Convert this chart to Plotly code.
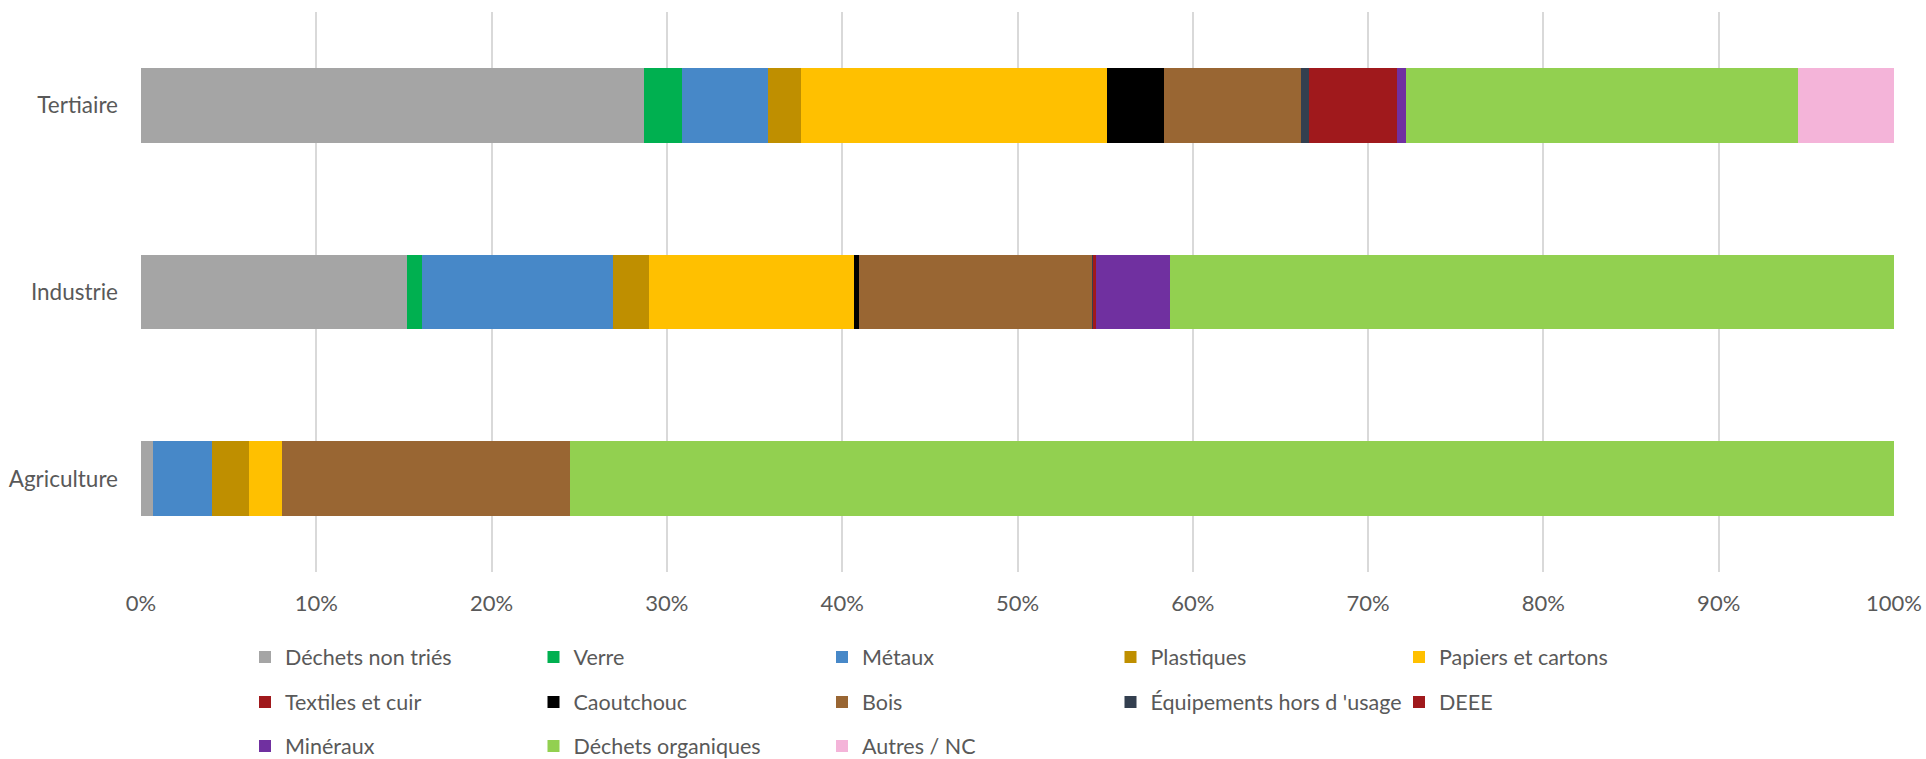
import plotly.graph_objects as go

# ── Data (share of each waste type, %) ─────────────────────────────────────────
SECTEURS = ["Agriculture", "Industrie", "Tertiaire"]

NON_TRIES = [0.67, 15.16, 28.72]
VERRE = [0.0, 0.88, 2.13]
METAUX = [3.39, 10.86, 4.89]
PLASTIQUES = [2.09, 2.06, 1.89]
PAPIERS = [1.89, 11.71, 17.47]
TEXTILES = [0.0, 0.0, 0.0]
CAOUTCHOUC = [0.0, 0.27, 3.23]
BOIS = [16.42, 13.31, 7.84]
EQUIPEMENTS = [0.0, 0.11, 0.46]
DEEE = [0.0, 0.11, 5.02]
MINERAUX = [0.0, 4.21, 0.49]
ORGANIQUES = [75.54, 41.32, 22.39]
AUTRES = [0.0, 0.0, 5.47]

# ── Style ─────────────────────────────────────────────────────────────────────
TEXT_COLOR = "#595959"
GRID_COLOR = "#D9D9D9"
FONT = "Lato, 'Open Sans', sans-serif"
W, H = 1926, 759

SERIES = [
    ("Déchets non triés", NON_TRIES, "#A5A5A5", "legend"),
    ("Verre", VERRE, "#00B050", "legend"),
    ("Métaux", METAUX, "#4788C8", "legend"),
    ("Plastiques", PLASTIQUES, "#BF8F00", "legend"),
    ("Papiers et cartons", PAPIERS, "#FFC000", "legend"),
    ("Textiles et cuir", TEXTILES, "#A0191C", "legend2"),
    ("Caoutchouc", CAOUTCHOUC, "#000000", "legend2"),
    ("Bois", BOIS, "#996633", "legend2"),
    ("Équipements hors d 'usage", EQUIPEMENTS, "#333F4F", "legend2"),
    ("DEEE", DEEE, "#A0191C", "legend2"),
    ("Minéraux", MINERAUX, "#7030A0", "legend3"),
    ("Déchets organiques", ORGANIQUES, "#92D050", "legend3"),
    ("Autres / NC", AUTRES, "#F4B4D9", "legend3"),
]

fig = go.Figure()
for name, vals, color, leg in SERIES:
    fig.add_trace(go.Bar(
        name=name,
        y=SECTEURS,
        x=vals,
        orientation="h",
        marker=dict(color=color, line=dict(width=0)),
        legend=leg,
        hovertemplate="<b>%{y}</b><br>" + name + " : %{x:.1f}%<extra></extra>",
    ))


def _legend(y_px):
    # one legend per row so the row spacing matches the original
    return dict(
        orientation="h",
        xref="container", yref="container",
        x=245 / W, xanchor="left",
        y=1 - y_px / H, yanchor="middle",
        entrywidth=243.5, entrywidthmode="pixels",
        font=dict(family=FONT, size=21.5, color=TEXT_COLOR),
        bgcolor="rgba(0,0,0,0)",
        traceorder="normal",
        itemclick=False,
    )


fig.update_layout(
    width=W, height=H,
    barmode="stack",
    bargap=0.6,
    paper_bgcolor="white",
    plot_bgcolor="white",
    font=dict(family=FONT, size=22, color=TEXT_COLOR),
    margin=dict(l=141, r=32, t=12, b=187, autoexpand=False),
    showlegend=True,
    legend=_legend(657),
    legend2=_legend(702),
    legend3=_legend(746),
    xaxis=dict(
        range=[0, 100],
        dtick=10,
        ticksuffix="%",
        showgrid=True,
        gridcolor=GRID_COLOR,
        gridwidth=1.5,
        zeroline=False,
        showline=False,
        ticks="",
        ticklabelstandoff=16,
        tickfont=dict(family=FONT, size=22, color=TEXT_COLOR),
    ),
    yaxis=dict(
        showgrid=False,
        zeroline=False,
        showline=False,
        ticks="",
        ticklabelstandoff=22,
        tickfont=dict(family=FONT, size=22.5, color=TEXT_COLOR),
    ),
)

fig.write_html(
    "out.html",
    config={"displayModeBar": False},
    post_script="document.body.style.margin='0';document.body.style.overflow='hidden';",
)
